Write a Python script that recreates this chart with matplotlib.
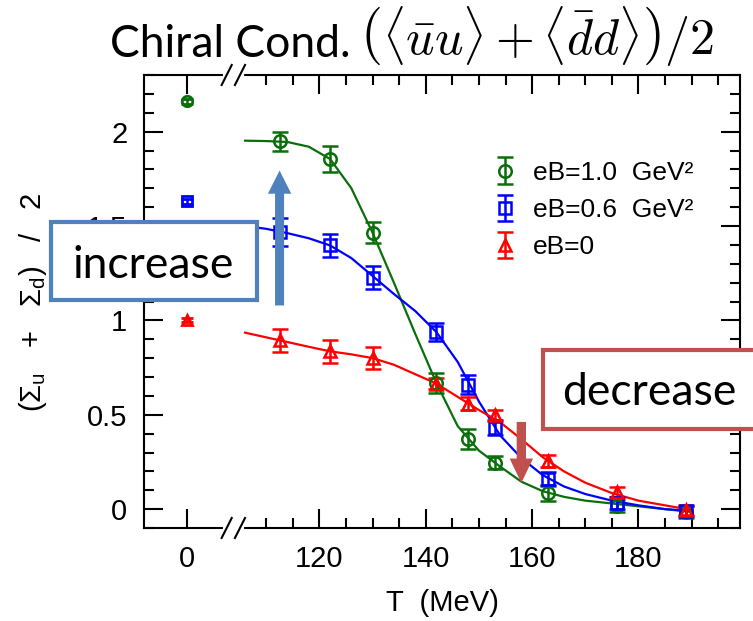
import matplotlib
matplotlib.use('Agg')
import matplotlib.pyplot as plt
from matplotlib.patches import Rectangle, FancyArrow

# measured points (T in MeV), T=0 points drawn at the axis break
T = [112.6, 122, 130, 142, 148, 153, 163, 176, 189]
X0 = 95  # where T=0 sits on the broken axis

green_y = [1.949, 1.855, 1.464, 0.668, 0.374, 0.245, 0.083, 0.016, -0.015]
green_err = [0.05, 0.068, 0.056, 0.053, 0.053, 0.034, 0.04, 0.03, 0.03]
blue_y = [1.467, 1.397, 1.226, 0.938, 0.66, 0.432, 0.162, 0.033, -0.01]
blue_err = [0.075, 0.06, 0.062, 0.046, 0.048, 0.041, 0.035, 0.03, 0.025]
red_y = [0.894, 0.836, 0.80, 0.665, 0.559, 0.497, 0.256, 0.092, -0.005]
red_err = [0.061, 0.06, 0.06, 0.03, 0.034, 0.028, 0.031, 0.026, 0.025]

zero_y = [2.16, 1.63, 1.0]
zero_err = [0.015, 0.015, 0.01]

# fit curves
T_curve = [106, 110, 114, 118, 122, 126, 130, 134, 138, 142, 146, 150, 154,
           158, 162, 166, 170, 175, 180, 185, 190]
green_curve = [1.952, 1.950, 1.945, 1.92, 1.855, 1.70, 1.464, 1.20, 0.93, 0.668,
               0.44, 0.31, 0.225, 0.145, 0.095, 0.065, 0.045, 0.03, 0.015, 0.0, -0.015]
blue_curve = [1.50, 1.485, 1.462, 1.435, 1.397, 1.33, 1.235, 1.14, 1.05, 0.938,
              0.78, 0.57, 0.39, 0.27, 0.18, 0.12, 0.08, 0.045, 0.02, 0.0, -0.01]
red_curve = [0.935, 0.91, 0.885, 0.86, 0.836, 0.82, 0.80, 0.765, 0.715, 0.665,
             0.595, 0.525, 0.46, 0.37, 0.275, 0.20, 0.14, 0.085, 0.045, 0.02, -0.005]

labels = ['eB=1.0  GeV²', 'eB=0.6  GeV²', 'eB=0']
colors = ['#0a6e0a', '#0000ff', '#ff0000']
markers = ['o', 's', '^']
sizes = [9, 8, 8.5]

plt.rcParams['font.family'] = ['Liberation Sans', 'DejaVu Sans']

W, H = 753, 621
fig = plt.figure(figsize=(W / 100, H / 100), dpi=100)
ax = fig.add_axes([144 / W, (H - 528) / H, 596 / W, 453 / H])


def fpx(x, y):
    return x / W, (H - y) / H


series = [(green_y, green_err, green_curve), (blue_y, blue_err, blue_curve),
          (red_y, red_err, red_curve)]
handles = []
for i, (ys, es, cv) in enumerate(series):
    ax.plot(T_curve, cv, color=colors[i], lw=1.6, zorder=2)
    h = ax.errorbar(T, ys, yerr=es, fmt=markers[i], color=colors[i], ms=sizes[i],
                    mfc='none', mew=1.8, elinewidth=1.8, capsize=5.5, capthick=1.8,
                    zorder=3, label=labels[i])
    ax.errorbar([X0], [zero_y[i]], yerr=[zero_err[i]], fmt=markers[i], color=colors[i],
                ms=sizes[i] - 1.5, mfc='none', mew=2, elinewidth=1.8, capsize=4,
                capthick=1.8, zorder=3)
    handles.append(h)

ax.set_xlim(87, 199.1)
ax.set_ylim(-0.1, 2.3)
ax.set_xticks([X0, 120, 140, 160, 180], ['0', '120', '140', '160', '180'])
ax.set_xticks([110, 115, 125, 130, 135, 145, 150, 155, 165, 170, 175, 185, 190, 195],
              minor=True)
ax.set_yticks([0, 0.5, 1, 1.5, 2], ['0', '0.5', '1', '1.5', '2'])
ax.set_yticks([v / 10 for v in range(-1, 24)], minor=True)
ax.tick_params(which='both', direction='in', top=True, right=True, width=1.5,
               labelsize=21)
ax.tick_params(which='major', length=14)
ax.tick_params(which='minor', length=7)
ax.tick_params(axis='x', pad=12)
ax.tick_params(axis='y', pad=12)
for s in ax.spines.values():
    s.set_linewidth(1.5)

# axis break marks on top and bottom spines
for yb in (-0.1, 2.3):
    ax.plot([102.2, 105.5], [yb, yb], color='white', lw=3, clip_on=False, zorder=5)
    for xb in (101.6, 104.1):
        ax.plot([xb, xb + 1.9], [yb - 0.053, yb + 0.053], color='black', lw=1.5,
                clip_on=False, zorder=6)

ax.set_xlabel('T  (MeV)', fontsize=21, labelpad=12)
ax.set_ylabel('(Σ$_\\mathregular{u}$   +   Σ$_\\mathregular{d}$)   /   2', fontsize=21)
ax.yaxis.set_label_coords(-0.16, 0.497)

ax.legend(handles=handles, loc='upper left', bbox_to_anchor=(0.566, 0.834),
          frameon=False, fontsize=19, handlelength=1.0, handletextpad=0.57,
          labelspacing=0.5, borderaxespad=0)

# annotation arrows
ax.add_patch(FancyArrow(112.5, 1.079, 0, 1.794 - 1.079, width=1.7, head_width=4.4,
                        head_length=0.123, length_includes_head=True,
                        color='#4f81bd', lw=0, zorder=7))
ax.add_patch(FancyArrow(157.97, 0.462, 0, 0.139 - 0.462, width=1.75, head_width=4.4,
                        head_length=0.129, length_includes_head=True,
                        color='#c0504d', lw=0, zorder=7))

# title
fig.text(*fpx(110, 57), 'Chiral Cond.', family='Lato', fontsize=32, va='baseline')
fig.text(*fpx(360, 55), r'$\left(\langle\bar{u}u\rangle+\langle\bar{d}d\rangle\right)/2$',
         math_fontfamily='cm', fontsize=36, va='baseline')

# labelled boxes
x0, y0 = fpx(50.7, 300)
x1, y1 = fpx(257.3, 221.7)
fig.add_artist(Rectangle((x0, y0), x1 - x0, y1 - y0, transform=fig.transFigure,
                         fc='white', ec='#4f81bd', lw=3, zorder=10))
fig.text(*fpx(153, 278), 'increase', family='Lato', fontsize=32, ha='center',
         va='baseline', zorder=11)

x0, y0 = fpx(542.7, 429.3)
x1, y1 = fpx(800, 350)
fig.add_artist(Rectangle((x0, y0), x1 - x0, y1 - y0, transform=fig.transFigure,
                         fc='white', ec='#c0504d', lw=3, zorder=10))
fig.text(*fpx(649, 405), 'decrease', family='Lato', fontsize=32, ha='center',
         va='baseline', zorder=11)

fig.savefig('out.png', dpi=100)
